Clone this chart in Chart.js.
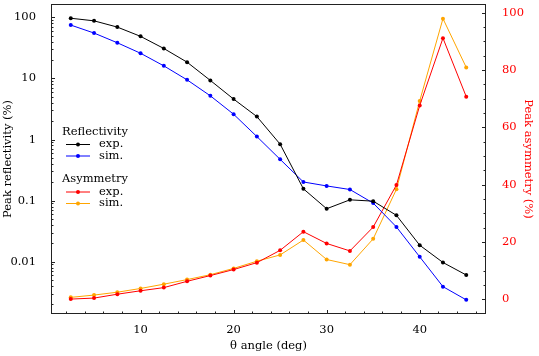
<!DOCTYPE html>
<html>
<head>
<meta charset="utf-8">
<script src="https://cdn.jsdelivr.net/npm/chart.js@4/dist/chart.umd.min.js"></script>
<style>
  html, body { margin: 0; padding: 0; background: #fff; }
  #wrap { width: 539px; height: 356px; }
</style>
</head>
<body>
<div id="wrap"><canvas id="grafica" width="539" height="356"></canvas></div>
<script>
// datos
const angles = [2.5, 5, 7.5, 10, 12.5, 15, 17.5, 20, 22.5, 25, 27.5, 30, 32.5, 35, 37.5, 40, 42.5, 45];
const reflExp = [97, 88, 69.5, 49, 31, 18.5, 9.3, 4.6, 2.38, 0.84, 0.156, 0.0736, 0.103, 0.098, 0.0574, 0.0186, 0.0097, 0.00605];
const reflSim = [75, 55.5, 38.5, 25.9, 16.1, 9.5, 5.2, 2.6, 1.12, 0.474, 0.202, 0.174, 0.152, 0.091, 0.037, 0.012, 0.0039, 0.00237];
const asymExp = [0.1, 0.45, 1.8, 3.0, 4.1, 6.3, 8.3, 10.4, 12.8, 17.1, 23.6, 19.5, 16.9, 25.2, 39.9, 67.6, 91.1, 70.7];
const asymSim = [0.7, 1.5, 2.5, 3.8, 5.3, 6.9, 8.6, 10.8, 13.3, 15.5, 20.7, 13.9, 12.1, 21.1, 38.4, 69.2, 97.9, 80.9];

const xTicks = [10, 20, 30, 40];
const logTicks = [0.01, 0.1, 1, 10, 100];
const asymTicks = [0, 20, 40, 60, 80, 100];

const FONT = 'DejaVu Serif';

function puntos(ys) {
    return angles.map((a, i) => ({ x: a, y: ys[i] }));
}

function serie(label, ys, color, eje) {
    return {
        label: label,
        data: puntos(ys),
        borderColor: color,
        backgroundColor: color,
        borderWidth: 1,
        pointRadius: 2,
        pointBorderWidth: 0,
        yAxisID: eje,
        tension: 0
    };
}

const datasets = [
    serie('Reflectivity exp.', reflExp, '#000000', 'y'),
    serie('Reflectivity sim.', reflSim, '#0000ff', 'y'),
    serie('Asymmetry exp.', asymExp, '#ff0000', 'y2'),
    serie('Asymmetry sim.', asymSim, '#ffa500', 'y2')
];

// marco y ticks hacia adentro
const marcoPlugin = {
    id: 'marco',
    afterDatasetsDraw(chart) {
        const ctx = chart.ctx;
        const a = chart.chartArea;
        const sx = chart.scales.x, sy = chart.scales.y, sy2 = chart.scales.y2;
        ctx.save();
        ctx.strokeStyle = '#222';
        ctx.lineWidth = 1;
        ctx.beginPath();
        // x
        for (let v = 2; v <= 46; v += 2) {
            const px = Math.round(sx.getPixelForValue(v)) + 0.5;
            const len = v % 10 === 0 ? 4 : 2.5;
            ctx.moveTo(px, a.bottom);
            ctx.lineTo(px, a.bottom - len);
        }
        // y log
        for (let e = -3; e <= 2; e++) {
            for (let m = 1; m <= 9; m++) {
                const v = m * Math.pow(10, e);
                if (v < sy.min || v > sy.max) continue;
                const py = Math.round(sy.getPixelForValue(v)) + 0.5;
                const len = m === 1 ? 4 : 2.5;
                ctx.moveTo(a.left, py);
                ctx.lineTo(a.left + len, py);
            }
        }
        // y2
        for (let v = 0; v <= 100; v += 5) {
            const py = Math.round(sy2.getPixelForValue(v)) + 0.5;
            const len = v % 20 === 0 ? 4 : 2.5;
            ctx.moveTo(a.right, py);
            ctx.lineTo(a.right - len, py);
        }
        ctx.stroke();
        ctx.strokeRect(Math.round(a.left) + 0.5, Math.round(a.top) + 0.5,
            Math.round(a.right - a.left) - 1, Math.round(a.bottom - a.top) - 1);
        ctx.restore();
    }
};

// leyenda agrupada
const leyendaPlugin = {
    id: 'leyenda',
    afterDatasetsDraw(chart) {
        const ctx = chart.ctx;
        const grupos = [
            { titulo: 'Reflectivity', y: 132, items: [[0, 'exp.'], [1, 'sim.']] },
            { titulo: 'Asymmetry', y: 179.5, items: [[2, 'exp.'], [3, 'sim.']] }
        ];
        ctx.save();
        ctx.font = '11.5px "' + FONT + '"';
        ctx.textBaseline = 'middle';
        ctx.textAlign = 'left';
        grupos.forEach(g => {
            ctx.fillStyle = '#000';
            ctx.fillText(g.titulo, 62, g.y);
            g.items.forEach((it, k) => {
                const ds = chart.data.datasets[it[0]];
                const yy = g.y + 12.5 + k * 11.5;
                ctx.strokeStyle = ds.borderColor;
                ctx.lineWidth = 1;
                ctx.beginPath();
                ctx.moveTo(66, yy);
                ctx.lineTo(90, yy);
                ctx.stroke();
                ctx.fillStyle = ds.borderColor;
                ctx.beginPath();
                ctx.arc(78, yy, 2, 0, Math.PI * 2);
                ctx.fill();
                ctx.fillStyle = '#000';
                ctx.fillText(it[1], 99, yy);
            });
        });
        ctx.restore();
    }
};

function sinPadding(scale) {
    scale.paddingTop = 0;
    scale.paddingBottom = 0;
    scale.paddingLeft = 0;
    scale.paddingRight = 0;
}

const ctx = document.getElementById('grafica').getContext('2d');
new Chart(ctx, {
    type: 'line',
    data: { datasets: datasets },
    plugins: [marcoPlugin, leyendaPlugin],
    options: {
        responsive: false,
        animation: false,
        layout: { padding: { top: 1, left: 0, right: 0, bottom: 0 } },
        plugins: {
            legend: { display: false },
            tooltip: { enabled: false }
        },
        scales: {
            x: {
                type: 'linear',
                min: 0.375,
                max: 47.125,
                grid: { display: false },
                border: { display: false },
                afterBuildTicks: s => { s.ticks = xTicks.map(v => ({ value: v })); },
                afterFit: s => { s.height = 42; sinPadding(s); },
                ticks: {
                    color: '#000',
                    padding: 1,
                    maxRotation: 0,
                    font: { family: FONT, size: 11.5 },
                    callback: v => String(v)
                },
                title: {
                    display: true,
                    text: 'θ angle (deg)',
                    color: '#000',
                    font: { family: FONT, size: 11.5 },
                    padding: { top: 0, bottom: 3 }
                }
            },
            y: {
                type: 'logarithmic',
                position: 'left',
                min: 0.00139,
                max: 166,
                grid: { display: false },
                border: { display: false },
                afterBuildTicks: s => { s.ticks = logTicks.map(v => ({ value: v })); },
                afterFit: s => { s.width = 51; sinPadding(s); },
                ticks: {
                    color: '#000',
                    padding: 7,
                    font: { family: FONT, size: 11.5 },
                    callback: v => String(v)
                },
                title: {
                    display: true,
                    text: 'Peak reflectivity (%)',
                    color: '#000',
                    font: { family: FONT, size: 11.5 },
                    padding: { top: 1, bottom: 0 }
                }
            },
            y2: {
                type: 'linear',
                position: 'right',
                min: -5.1,
                max: 103,
                grid: { display: false },
                border: { display: false },
                afterBuildTicks: s => { s.ticks = asymTicks.map(v => ({ value: v })); },
                afterFit: s => { s.width = 53; sinPadding(s); },
                ticks: {
                    color: '#ff0000',
                    padding: 8,
                    font: { family: FONT, size: 11.5 },
                    callback: v => String(v)
                },
                title: {
                    display: true,
                    text: 'Peak asymmetry (%)',
                    color: '#ff0000',
                    font: { family: FONT, size: 11.5 },
                    padding: { top: 4, bottom: 0 }
                }
            }
        }
    }
});
</script>
</body>
</html>
